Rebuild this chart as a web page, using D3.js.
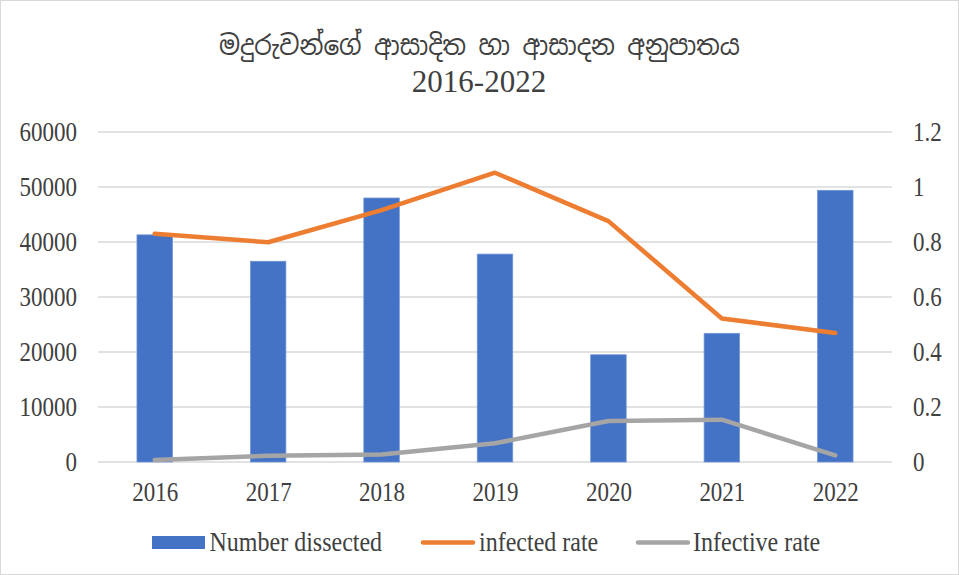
<!DOCTYPE html>
<html>
<head>
<meta charset="utf-8">
<script src="https://cdn.jsdelivr.net/npm/d3@7"></script>
<style>
  body { margin: 0; background: #fff; }
  text { font-family: "Liberation Serif", "Times New Roman", serif; fill: #404040; }
  .title1 { font-family: "Iskoola Pota", "Noto Sans Sinhala", "Noto Serif Sinhala", "Liberation Serif", serif; }
</style>
</head>
<body>
<svg id="chart" width="959" height="575"></svg>
<script>
var years = ['2016', '2017', '2018', '2019', '2020', '2021', '2022'];
var numberDissected = [41300, 36500, 48000, 37800, 19500, 23400, 49400];
var infectedRate = [0.830, 0.799, 0.916, 1.052, 0.876, 0.522, 0.469];
var infectiveRate = [0.007, 0.023, 0.027, 0.068, 0.149, 0.154, 0.024];
var leftTicks = [0, 10000, 20000, 30000, 40000, 50000, 60000];
var rightTicks = [0, 0.2, 0.4, 0.6, 0.8, 1, 1.2];

var svg = d3.select('#chart');
var W = 959, H = 575;
var plotLeft = 98, plotRight = 892, plotTop = 132, plotBottom = 462;
var stretch = 'scale(1,1.15)';

svg.append('rect')
	.attr('x', 0.5).attr('y', 0.5)
	.attr('width', W - 1).attr('height', H - 1)
	.attr('fill', '#fff')
	.attr('stroke', '#d9d9d9');

var x = d3.scaleBand().domain(years).range([plotLeft, plotRight]).paddingInner(0.687).paddingOuter(0.3435);
var xc = d3.scalePoint().domain(years).range([plotLeft, plotRight]).padding(0.5);
var yL = d3.scaleLinear().domain([0, 60000]).range([plotBottom, plotTop]);
var yR = d3.scaleLinear().domain([0, 1.2]).range([plotBottom, plotTop]);

// gridlines
svg.append('g')
	.selectAll('line')
	.data(leftTicks)
	.enter()
	.append('line')
	.attr('x1', plotLeft).attr('x2', plotRight)
	.attr('y1', function(d) { return yL(d); })
	.attr('y2', function(d) { return yL(d); })
	.attr('stroke', '#d9d9d9')
	.attr('stroke-width', 1.5);

// left axis
var axL = svg.append('g')
	.attr('transform', 'translate(' + (plotLeft - 21) + ',0)')
	.call(d3.axisLeft(yL).tickValues(leftTicks).tickSize(0).tickPadding(0).tickFormat(d3.format('d')));
axL.select('.domain').remove();
axL.selectAll('text').style('font-size', '23px').attr('fill', '#404040').attr('transform', stretch);

// right axis
var axR = svg.append('g')
	.attr('transform', 'translate(' + (plotRight + 21) + ',0)')
	.call(d3.axisRight(yR).tickValues(rightTicks).tickSize(0).tickPadding(0).tickFormat(function(d) { return String(d); }));
axR.select('.domain').remove();
axR.selectAll('text').style('font-size', '23px').attr('fill', '#404040').attr('transform', stretch);

// x axis
var axX = svg.append('g')
	.attr('transform', 'translate(0,' + (plotBottom + 20) + ')')
	.call(d3.axisBottom(xc).tickSize(0).tickPadding(0));
axX.select('.domain').remove();
axX.selectAll('text').style('font-size', '23px').attr('fill', '#404040').attr('transform', stretch);

// bars
svg.append('g')
	.selectAll('rect')
	.data(numberDissected)
	.enter()
	.append('rect')
	.attr('x', function(d, i) { return x(years[i]); })
	.attr('width', x.bandwidth())
	.attr('y', function(d) { return yL(d); })
	.attr('height', function(d) { return plotBottom - yL(d); })
	.attr('fill', '#4472c4')
	.attr('stroke', '#7096d8')
	.attr('stroke-width', 0.75);

var line = d3.line()
	.x(function(d, i) { return xc(years[i]); })
	.y(function(d) { return yR(d); });

svg.append('path')
	.datum(infectedRate)
	.attr('d', line)
	.attr('fill', 'none')
	.attr('stroke', '#ed7d31')
	.attr('stroke-width', 4.5)
	.attr('stroke-linecap', 'round')
	.attr('stroke-linejoin', 'round');

svg.append('path')
	.datum(infectiveRate)
	.attr('d', line)
	.attr('fill', 'none')
	.attr('stroke', '#a5a5a5')
	.attr('stroke-width', 4.5)
	.attr('stroke-linecap', 'round')
	.attr('stroke-linejoin', 'round');

// title
svg.append('text')
	.attr('class', 'title1')
	.attr('x', 219).attr('y', 55)
	.attr('textLength', 521)
	.attr('lengthAdjust', 'spacingAndGlyphs')
	.style('font-size', '27px')
	.text('මදුරුවන්ගේ ආසාදිත හා ආසාදන අනුපාතය');
svg.append('text')
	.attr('x', 479).attr('y', 92)
	.attr('text-anchor', 'middle')
	.style('font-size', '31px')
	.text('2016-2022');

// legend
function legendText(x0, label) {
	svg.append('text')
		.attr('transform', 'translate(' + x0 + ',551) ' + stretch)
		.style('font-size', '24px')
		.text(label);
}
svg.append('rect')
	.attr('x', 152).attr('y', 536).attr('width', 53).attr('height', 13)
	.attr('fill', '#4472c4');
legendText(209.5, 'Number dissected');
svg.append('line')
	.attr('x1', 423).attr('x2', 473).attr('y1', 542.5).attr('y2', 542.5)
	.attr('stroke', '#ed7d31').attr('stroke-width', 4.5).attr('stroke-linecap', 'round');
legendText(479, 'infected rate');
svg.append('line')
	.attr('x1', 638).attr('x2', 688).attr('y1', 542.5).attr('y2', 542.5)
	.attr('stroke', '#a5a5a5').attr('stroke-width', 4.5).attr('stroke-linecap', 'round');
legendText(693, 'Infective rate');
</script>
</body>
</html>
